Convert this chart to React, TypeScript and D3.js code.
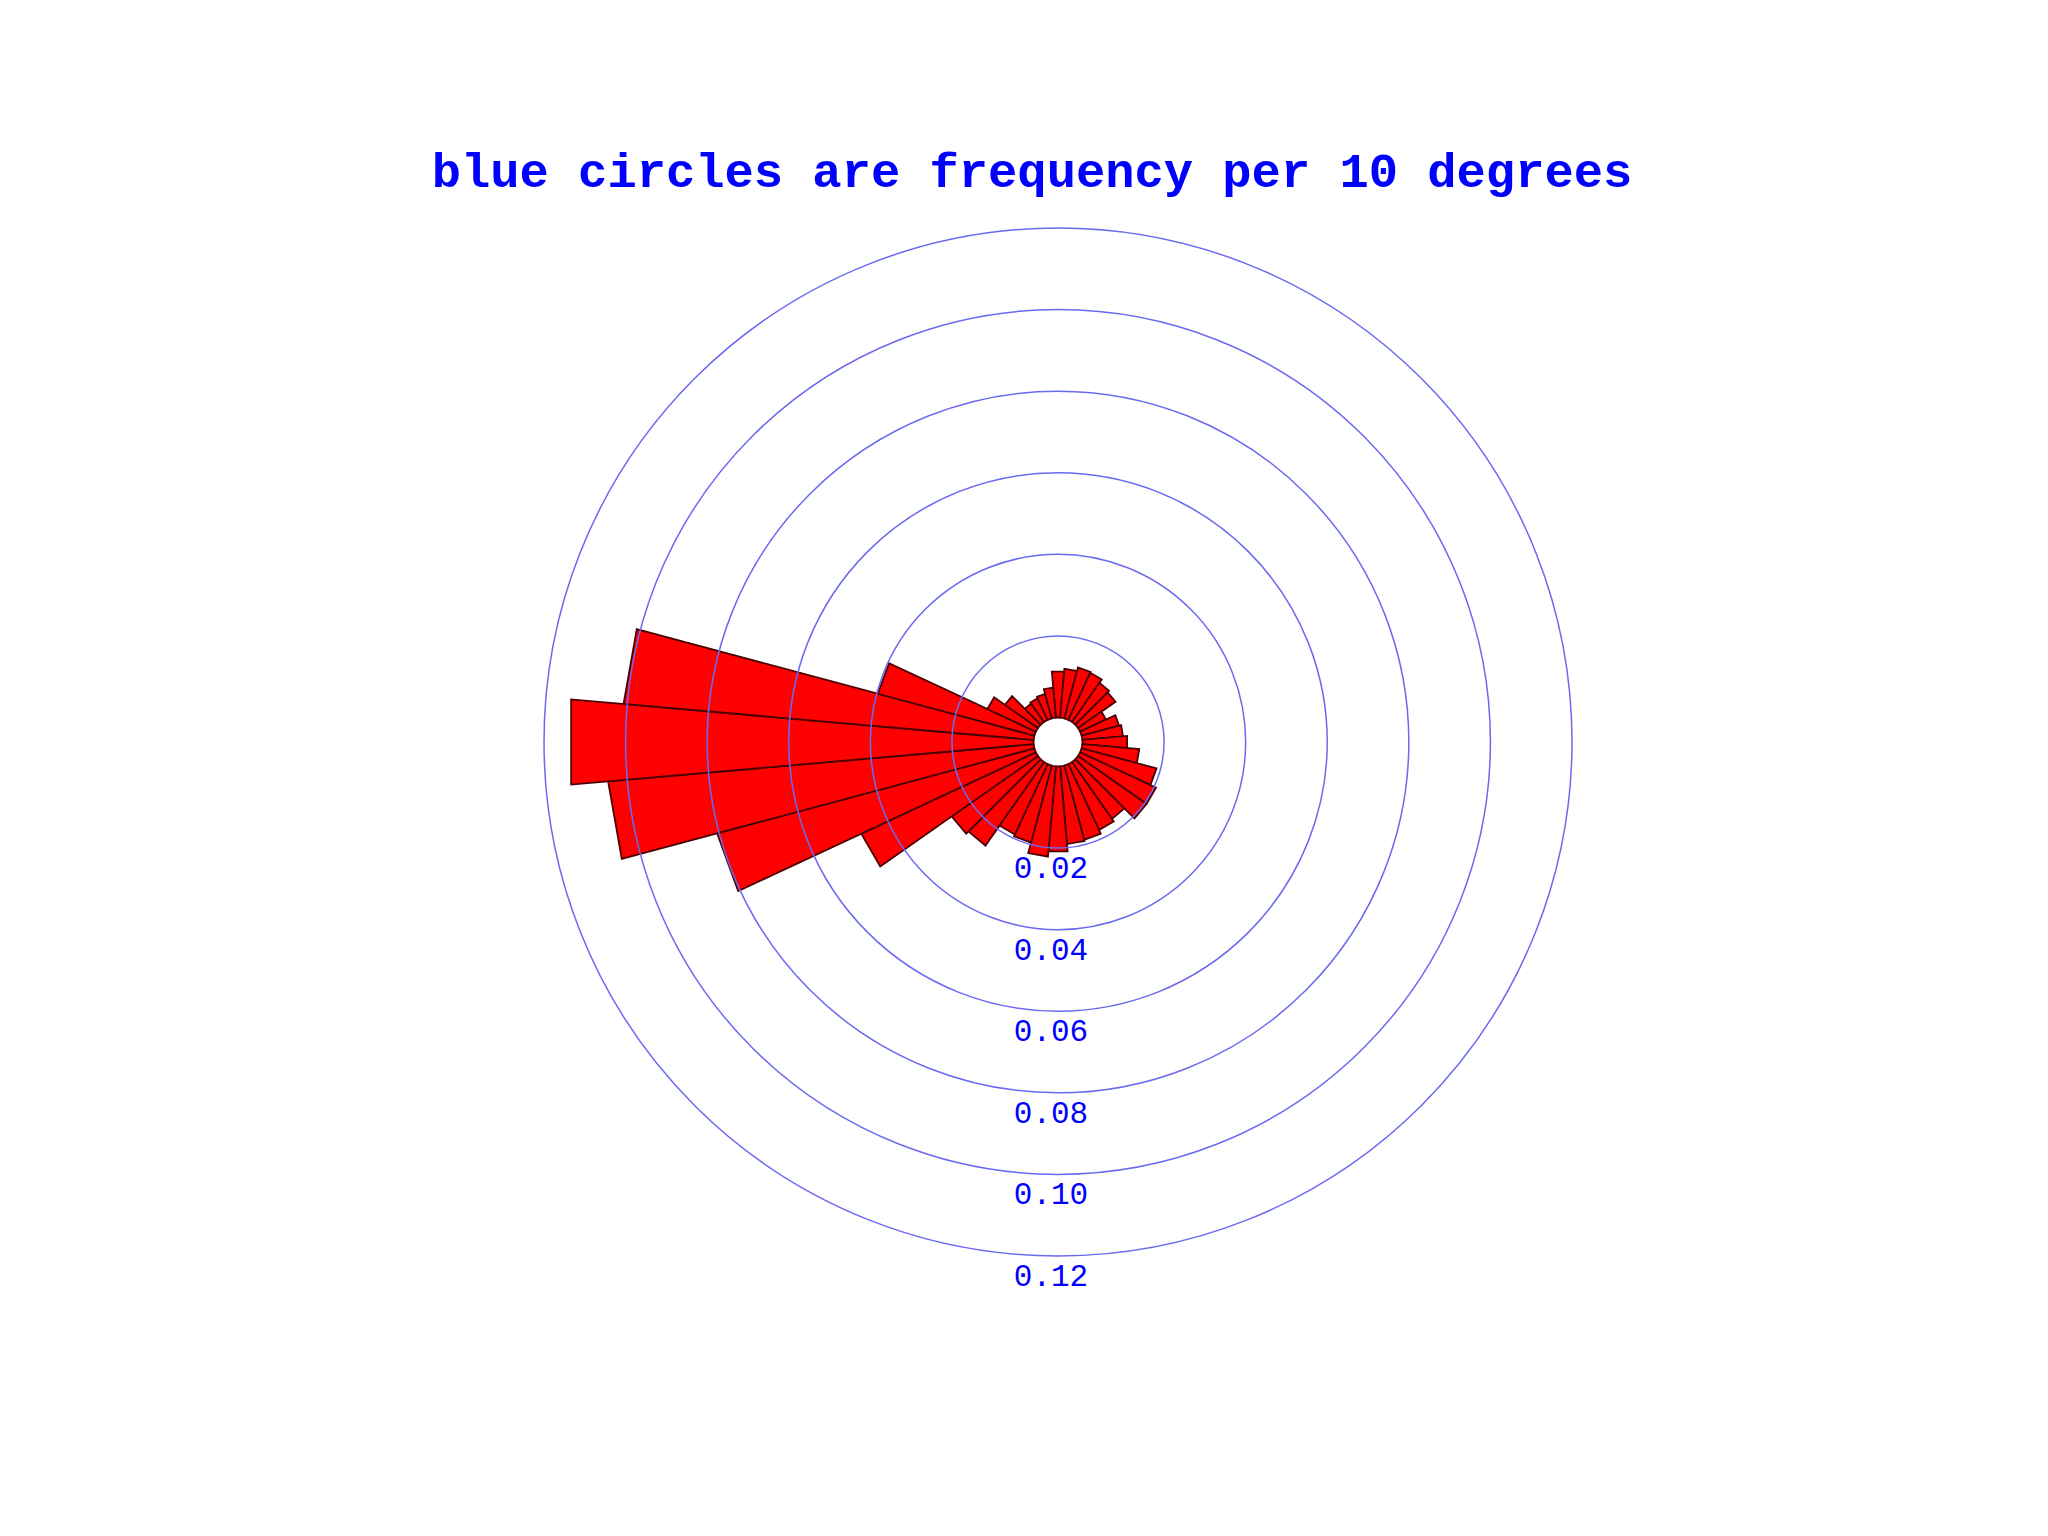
import React from "react";
import * as d3 from "d3";

// Compass bearing of each 10-degree bin centre (0 = north, clockwise)
const bearings: number[] = [
  0, 10, 20, 30, 40, 50, 60, 70, 80, 90, 100, 110, 120, 130, 140, 150, 160, 170,
  180, 190, 200, 210, 220, 230, 240, 250, 260, 270, 280, 290, 300, 310, 320, 330, 340, 350,
];

// Relative frequency per 10-degree bin
const frequencies: number[] = [
  0.0113, 0.012, 0.0129, 0.0127, 0.0117, 0.0112, 0.007, 0.0095, 0.01, 0.011,
  0.014, 0.019, 0.0205, 0.0205, 0.017, 0.0178, 0.0188, 0.0191, 0.0209, 0.0222,
  0.0195, 0.019, 0.025, 0.0258, 0.0472, 0.0805, 0.1047, 0.1138, 0.1009, 0.0397,
  0.0131, 0.0099, 0.0055, 0.0058, 0.0062, 0.0074,
];

const ringValues: number[] = [0.02, 0.04, 0.06, 0.08, 0.1, 0.12];
const ringLabels: string[] = ["0.02", "0.04", "0.06", "0.08", "0.10", "0.12"];

const titleText = "blue circles are frequency per 10 degrees";

export default function App() {
  const W = 2048;
  const H = 1536;
  const cx = 1058;
  const cy = 742;
  const binWidth = 10;

  const r = d3.scaleLinear().domain([0, 0.12]).range([24.5, 514]);

  const pt = (bearingDeg: number, radius: number): [number, number] => {
    const a = (bearingDeg * Math.PI) / 180;
    return [cx + radius * Math.sin(a), cy - radius * Math.cos(a)];
  };

  const line = d3.line<[number, number]>();

  const bars = bearings.map((b, i) => {
    const v = frequencies[i];
    const r0 = r(0);
    const r1 = r(v);
    const pts: [number, number][] = [
      pt(b - binWidth / 2, r0),
      pt(b - binWidth / 2, r1),
      pt(b + binWidth / 2, r1),
      pt(b + binWidth / 2, r0),
    ];
    return (line(pts) || "") + "Z";
  });

  return (
    <svg
      width={W}
      height={H}
      style={{ position: "absolute", left: 0, top: 0, background: "#ffffff" }}
    >
      <rect x={0} y={0} width={W} height={H} fill="#ffffff" />
      <text
        x={1032}
        y={187}
        textAnchor="middle"
        fontFamily="'Liberation Mono', 'DejaVu Sans Mono', monospace"
        fontWeight="bold"
        fontSize={48.8}
        fill="#0000ff"
      >
        {titleText}
      </text>
      <g>
        {bars.map((d, i) => (
          <path
            key={i}
            d={d}
            fill="#ff0000"
            stroke="#4a0000"
            strokeWidth={1.8}
            strokeLinejoin="miter"
          />
        ))}
      </g>
      <g>
        {ringValues.map((v, i) => (
          <circle
            key={i}
            cx={cx}
            cy={cy}
            r={r(v)}
            fill="none"
            stroke="#6a6af0"
            strokeWidth={1.5}
          />
        ))}
      </g>
      <g>
        {ringValues.map((v, i) => (
          <text
            key={i}
            x={1051}
            y={cy + r(v) + 30}
            textAnchor="middle"
            fontFamily="'Liberation Mono', 'DejaVu Sans Mono', monospace"
            fontSize={31}
            fill="#0000ff"
          >
            {ringLabels[i]}
          </text>
        ))}
      </g>
    </svg>
  );
}
